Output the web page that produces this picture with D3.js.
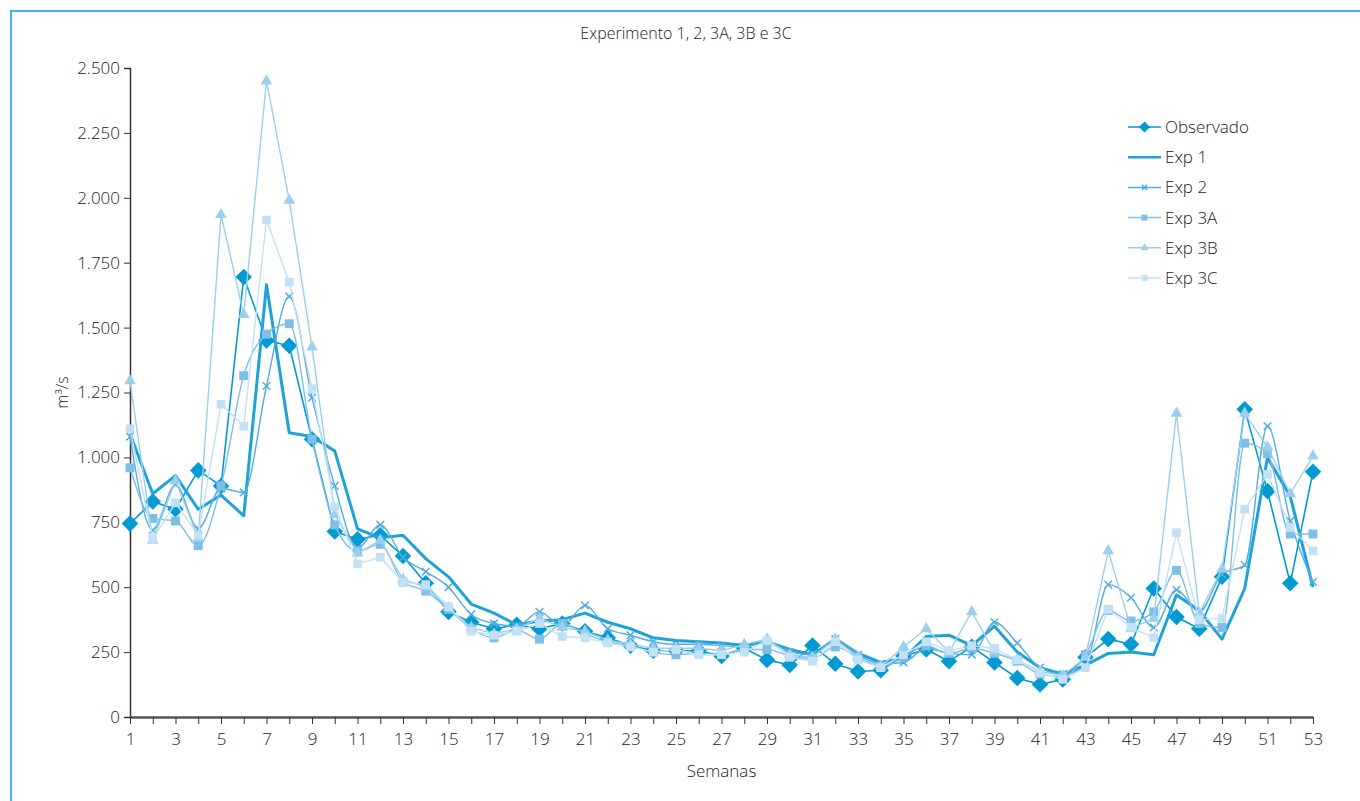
<!DOCTYPE html>
<html>
<head>
<meta charset="utf-8">
<script src="https://cdn.jsdelivr.net/npm/d3@7"></script>
<style>
  body { margin: 0; background: #fff; }
  svg text { font-family: "Open Sans", "Noto Sans", sans-serif; fill: #222; }
</style>
</head>
<body>
<div id="vis"></div>
<script>
// data
const weeks = d3.range(1, 54);
const yTicks = [0, 250, 500, 750, 1000, 1250, 1500, 1750, 2000, 2250, 2500];

const observado = [745, 830, 800, 950, 890, 1695, 1450, 1430, 1070, 715,
  685, 700, 620, 515, 405, 365, 340, 355, 340, 360,
  330, 305, 275, 255, 255, 255, 235, 265, 220, 200,
  275, 205, 175, 180, 235, 260, 215, 270, 210, 150,
  125, 145, 230, 300, 280, 495, 385, 340, 540, 1185,
  870, 515, 945];
const exp1 = [1090, 860, 930, 800, 855, 775, 1665, 1095, 1080, 1025,
  725, 690, 700, 610, 540, 435, 400, 355, 370, 375,
  400, 365, 340, 305, 295, 290, 285, 275, 290, 260,
  240, 300, 245, 210, 225, 310, 315, 275, 350, 250,
  190, 165, 200, 245, 250, 240, 470, 410, 300, 495,
  1000, 850, 500];
const exp2 = [1080, 720, 895, 725, 880, 865, 1275, 1620, 1230, 890,
  650, 740, 615, 560, 500, 395, 360, 350, 405, 350,
  430, 340, 315, 290, 280, 280, 275, 270, 290, 250,
  240, 300, 240, 205, 210, 265, 245, 240, 365, 285,
  190, 165, 200, 510, 460, 345, 490, 405, 550, 585,
  1120, 755, 520];
const exp3A = [960, 765, 755, 660, 890, 1315, 1475, 1515, 1070, 740,
  640, 665, 520, 485, 415, 340, 305, 335, 300, 360,
  320, 290, 275, 250, 240, 245, 240, 260, 260, 235,
  225, 270, 230, 195, 230, 275, 245, 265, 245, 215,
  165, 155, 240, 410, 370, 405, 565, 360, 345, 1055,
  1015, 705, 705];
const exp3B = [1295, 680, 910, 690, 1935, 1550, 2450, 1990, 1425, 780,
  630, 680, 530, 500, 420, 345, 320, 340, 380, 345,
  330, 295, 280, 265, 265, 265, 255, 280, 300, 240,
  230, 300, 230, 195, 270, 340, 250, 405, 250, 220,
  175, 160, 230, 640, 340, 380, 1170, 400, 570, 1170,
  1040, 860, 1005];
const exp3C = [1110, 685, 825, 700, 1205, 1120, 1915, 1675, 1265, 810,
  590, 615, 520, 510, 425, 330, 315, 330, 360, 310,
  305, 285, 270, 250, 260, 240, 240, 250, 295, 230,
  215, 290, 220, 190, 240, 290, 255, 275, 265, 220,
  170, 145, 190, 415, 345, 305, 710, 375, 380, 800,
  935, 730, 640];

const series = [
  { name: "Observado", values: observado, color: "#009bd3", width: 1.6, marker: "diamond", size: 175, curve: d3.curveLinear },
  { name: "Exp 1", values: exp1, color: "#1ea2d8", width: 3, marker: null, curve: d3.curveLinear },
  { name: "Exp 2", values: exp2, color: "#52aee0", width: 1.4, marker: "cross", size: 40, curve: d3.curveMonotoneX },
  { name: "Exp 3A", values: exp3A, color: "#7dbfe6", width: 1.4, marker: "square", size: 80, curve: d3.curveMonotoneX },
  { name: "Exp 3B", values: exp3B, color: "#9ccfee", width: 1.4, marker: "triangle", size: 60, curve: d3.curveLinear },
  { name: "Exp 3C", values: exp3C, color: "#c3e1f4", width: 1.4, marker: "square", size: 75, curve: d3.curveLinear },
];

const W = 1360, H = 801;
const margin = { top: 68, right: 47, bottom: 84, left: 130 };

const svg = d3.select("#vis").append("svg")
  .attr("width", W)
  .attr("height", H);

// frame
svg.append("rect")
  .attr("x", 11).attr("y", 11)
  .attr("width", W + 20).attr("height", H + 20)
  .attr("fill", "none")
  .attr("stroke", "#3db6e6")
  .attr("stroke-width", 2);

const x = d3.scaleLinear().domain([1, 53]).range([margin.left, W - margin.right]);
const y = d3.scaleLinear().domain([0, 2500]).range([H - margin.bottom, margin.top]);

const fmt = d => d3.format(",")(d).replace(/,/g, ".");

// y axis
const yAxis = svg.append("g")
  .attr("transform", `translate(${margin.left},0)`)
  .call(d3.axisLeft(y).tickValues(yTicks).tickSize(6).tickFormat(fmt));
yAxis.select(".domain").attr("stroke", "#333").attr("stroke-width", 1.5);
yAxis.selectAll(".tick line").attr("stroke", "#333");
yAxis.selectAll("text").attr("font-size", 17).attr("dx", -1).style("font-weight", 300);

// x axis
const xAxis = svg.append("g")
  .attr("transform", `translate(0,${y(0)})`)
  .call(d3.axisBottom(x).tickValues(weeks).tickSize(7).tickSizeOuter(0)
    .tickFormat(d => d % 2 === 1 ? d : ""));
xAxis.select(".domain").attr("stroke", "#555").attr("stroke-width", 2.5);
xAxis.selectAll(".tick line").attr("stroke", "#333");
xAxis.selectAll("text").attr("font-size", 17).attr("dy", "1.05em").style("font-weight", 300);

// title and axis labels
svg.append("text")
  .attr("x", 686).attr("y", 39)
  .attr("text-anchor", "middle")
  .attr("font-size", 16)
  .style("font-weight", 300)
  .text("Experimento 1, 2, 3A, 3B e 3C");

svg.append("text")
  .attr("transform", `translate(68,${(y(0) + y(2500)) / 2}) rotate(-90)`)
  .attr("text-anchor", "middle")
  .attr("font-size", 16)
  .style("font-weight", 300)
  .text("m³/s");

svg.append("text")
  .attr("x", (x(1) + x(53)) / 2).attr("y", 777)
  .attr("text-anchor", "middle")
  .attr("font-size", 17)
  .style("font-weight", 300)
  .text("Semanas");

const symbolOf = {
  diamond: d3.symbolDiamond2,
  cross: d3.symbolX,
  square: d3.symbolSquare,
  triangle: d3.symbolTriangle,
};

function drawMarker(g, s, cx, cy, scale) {
  const sz = s.size * (scale || 1);
  const sym = d3.symbol().type(symbolOf[s.marker]).size(sz);
  const p = g.append("path")
    .attr("d", sym())
    .attr("transform", `translate(${cx},${cy})`);
  if (s.marker === "cross") {
    p.attr("fill", "none").attr("stroke", s.color).attr("stroke-width", 1.5);
  } else {
    p.attr("fill", s.color);
  }
  return p;
}

const plot = svg.append("g");

series.forEach(s => {
  const g = plot.append("g").attr("class", "series");
  const line = d3.line()
    .x((d, i) => x(weeks[i]))
    .y(d => y(d))
    .curve(s.curve);
  g.append("path")
    .datum(s.values)
    .attr("fill", "none")
    .attr("stroke", s.color)
    .attr("stroke-width", s.width)
    .attr("stroke-linejoin", "round")
    .attr("d", line);
  if (s.marker) {
    s.values.forEach((v, i) => drawMarker(g, s, x(weeks[i]), y(v)));
  }
});

// legend
const legend = svg.append("g").attr("transform", "translate(1128,127)");
series.forEach((s, i) => {
  const row = legend.append("g").attr("transform", `translate(0,${i * 30.2})`);
  row.append("line")
    .attr("x1", 0).attr("x2", 33)
    .attr("stroke", s.color)
    .attr("stroke-width", s.name === "Exp 1" ? 2.5 : 1.5);
  if (s.marker) drawMarker(row, s, 16.5, 0, 0.45);
  row.append("text")
    .attr("x", 37).attr("y", 0)
    .attr("dy", "0.35em")
    .attr("font-size", 17)
    .style("font-weight", 300)
    .text(s.name);
});
</script>
</body>
</html>
